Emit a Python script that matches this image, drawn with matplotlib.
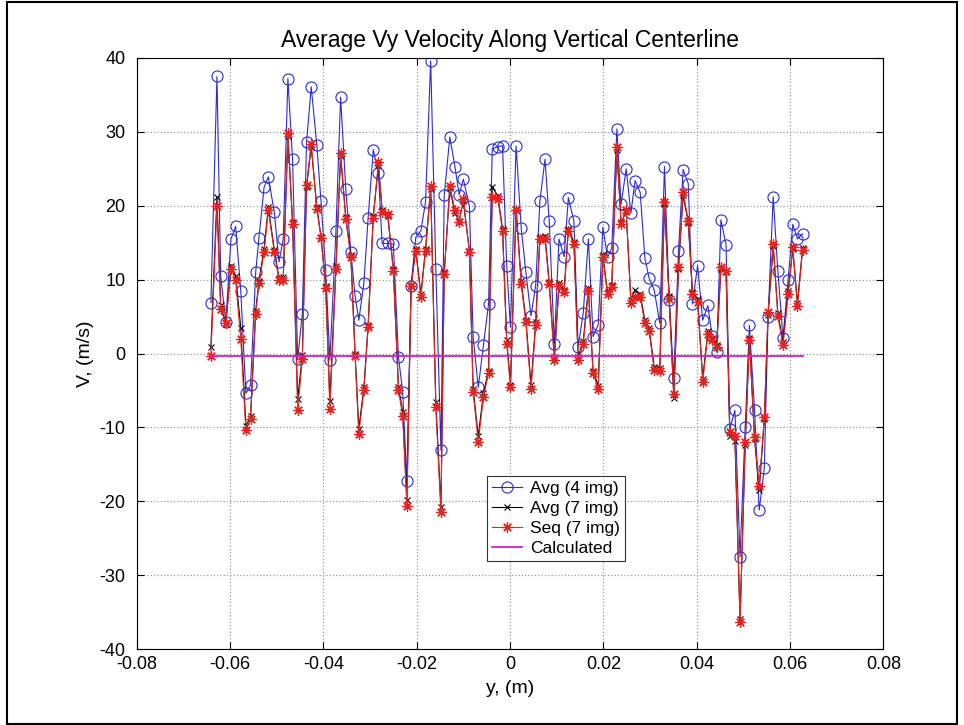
import matplotlib
matplotlib.use("Agg")
import matplotlib.pyplot as plt
from matplotlib.patches import Rectangle

plt.rcParams['font.family'] = ['Liberation Sans', 'DejaVu Sans']
plt.rcParams['axes.unicode_minus'] = False

# positions along the vertical centerline (mm)
y_mm = [-64.1, -62.8, -62.0, -60.9, -59.8, -58.8, -57.7, -56.6, -55.6, -54.5,
        -53.8, -52.7, -51.8, -50.5, -49.5, -48.6, -47.6, -46.6, -45.5, -44.5,
        -43.6, -42.6, -41.4, -40.5, -39.5, -38.6, -37.3, -36.3, -35.2, -34.1,
        -33.2, -32.4, -31.3, -30.4, -29.3, -28.2, -27.4, -26.2, -25.0, -23.9,
        -23.0, -22.1, -21.2, -20.2, -19.1, -18.1, -17.0, -15.9, -14.8, -14.1,
        -12.9, -11.8, -10.9, -10.0, -8.7, -7.9, -6.8, -5.7, -4.6, -3.8,
        -2.6, -1.6, -0.7, 0.1, 1.3, 2.4, 3.4, 4.5, 5.5, 6.4,
        7.5, 8.4, 9.5, 10.5, 11.6, 12.5, 13.7, 14.6, 15.7, 16.8,
        17.8, 18.9, 19.9, 20.9, 21.8, 22.9, 23.8, 24.9, 25.9, 26.8,
        27.9, 28.9, 29.8, 30.9, 32.1, 33.1, 34.1, 35.1, 36.1, 37.1,
        38.2, 39.1, 40.2, 41.3, 42.4, 43.3, 44.3, 45.2, 46.3, 47.1,
        48.2, 49.3, 50.4, 51.3, 52.4, 53.4, 54.5, 55.3, 56.4, 57.4,
        58.5, 59.6, 60.6, 61.6, 62.7]

avg4 = [6.9, 37.5, 10.5, 4.2, 15.5, 17.2, 8.5, -5.4, -4.3, 11.0,
        15.7, 22.5, 23.9, 19.1, 12.4, 15.5, 37.2, 26.3, -0.7, 5.4,
        28.6, 36.1, 28.2, 20.6, 11.3, -0.9, 16.6, 34.7, 22.3, 13.7,
        7.8, 4.5, 9.6, 18.4, 27.6, 24.4, 14.9, 14.9, 14.8, -0.5,
        -5.2, -17.2, 9.1, 15.7, 16.6, 20.5, 39.6, 11.5, -13.1, 21.4,
        29.3, 25.3, 21.5, 23.6, 19.9, 2.3, -4.6, 1.1, 6.7, 27.7,
        28.0, 28.1, 11.8, 3.6, 28.1, 17.0, 11.0, 5.1, 9.2, 20.6,
        26.3, 18.0, 1.3, 15.5, 13.1, 21.1, 17.9, 0.9, 5.5, 15.5,
        2.3, 3.9, 17.1, 13.0, 14.3, 30.4, 20.2, 25.0, 19.0, 23.4,
        21.8, 12.9, 10.2, 8.6, 4.1, 25.3, 7.3, -3.3, 13.9, 24.9,
        23.0, 6.7, 11.9, 4.5, 6.5, 2.4, 0.2, 18.1, 14.7, -10.2,
        -7.7, -27.5, -10.0, 3.8, -7.6, -21.2, -15.5, 4.9, 21.2, 11.2,
        2.1, 10.0, 17.5, 15.5, 16.2]

avg7 = [0.9, 21.2, 6.5, 4.0, 11.8, 10.5, 3.5, -9.8, -8.5, 5.8,
        9.8, 14.2, 19.8, 14.0, 10.2, 10.3, 29.5, 17.8, -6.2, -0.2,
        22.5, 28.0, 19.8, 15.8, 9.2, -6.4, 11.8, 26.8, 18.5, 13.3,
        0.0, -10.2, -4.5, 3.9, 18.6, 25.5, 19.4, 18.6, 11.5, -4.6,
        -7.9, -19.8, 9.3, 14.1, 8.0, 14.2, 22.3, -6.5, -20.8, 11.0,
        22.4, 19.0, 18.0, 20.6, 13.9, -4.8, -11.2, -5.4, -2.3, 22.6,
        21.3, 16.9, 1.8, -4.2, 19.6, 9.8, 4.6, -4.3, 4.2, 15.8,
        15.9, 9.7, -0.5, 9.5, 8.6, 16.9, 15.1, -0.5, 1.7, 8.8,
        -2.3, -4.4, 13.3, 8.3, 9.3, 27.6, 17.8, 19.1, 7.3, 8.6,
        8.0, 4.5, 3.4, -1.8, -1.9, 20.2, 7.8, -6.0, 11.4, 21.5,
        17.7, 8.3, 7.4, -3.4, 3.0, 2.1, 1.2, 11.4, 11.0, -11.2,
        -11.8, -36.0, -12.4, 2.1, -11.6, -18.5, -8.9, 5.2, 14.5, 5.5,
        1.5, 8.4, 14.1, 6.8, 14.3]

seq7 = [-0.3, 20.0, 6.0, 4.1, 11.5, 10.0, 1.9, -10.4, -8.8, 5.4,
        9.5, 13.7, 19.4, 13.7, 9.9, 10.0, 29.9, 17.5, -7.7, -0.7,
        22.8, 28.4, 19.6, 15.7, 8.9, -7.5, 11.5, 27.1, 18.2, 13.0,
        -0.4, -10.9, -4.9, 3.6, 18.4, 25.9, 19.1, 18.9, 11.2, -5.0,
        -8.4, -20.6, 9.1, 13.9, 7.7, 13.9, 22.7, -7.3, -21.5, 10.7,
        22.7, 19.4, 17.8, 20.9, 13.7, -5.2, -12.0, -5.9, -2.7, 21.2,
        20.9, 16.6, 1.3, -4.6, 19.4, 9.4, 4.2, -4.8, 3.8, 15.5,
        15.5, 9.4, -0.9, 9.2, 8.3, 16.6, 14.8, -0.9, 1.3, 8.5,
        -2.7, -4.8, 13.0, 8.0, 9.0, 27.9, 17.5, 19.4, 6.9, 7.6,
        7.6, 4.1, 3.1, -2.2, -2.3, 20.5, 7.4, -5.5, 11.7, 21.8,
        18.0, 8.0, 7.0, -3.8, 2.7, 1.8, 0.9, 11.7, 11.2, -10.6,
        -11.1, -36.4, -12.0, 1.8, -11.3, -17.9, -8.6, 5.6, 14.8, 5.1,
        1.1, 8.1, 14.4, 6.4, 14.0]

calc_y = [-0.4, -0.4]

title = "Average Vy Velocity Along Vertical Centerline"
xlabel = "y, (m)"
ylabel = "V, (m/s)"
x_ticks = [-0.08, -0.06, -0.04, -0.02, 0, 0.02, 0.04, 0.06, 0.08]
x_tick_labels = ["-0.08", "-0.06", "-0.04", "-0.02", "0", "0.02", "0.04", "0.06", "0.08"]
y_ticks = [-40, -30, -20, -10, 0, 10, 20, 30, 40]

x = [v / 1000.0 for v in y_mm]
calc_x = [x[0], x[-1]]

fig = plt.figure(figsize=(9.64, 7.25), dpi=100)
ax = fig.add_axes([0.1418, 0.1048, 0.7745, 0.8152])

ax.plot(x, avg4, color='#2b2bd6', lw=0.8, marker='o', ms=8, mfc='none',
        mec='#2b2bd6', mew=0.8, label='Avg (4 img)')
ax.plot(x, avg7, color='black', lw=0.8, marker='x', ms=5, mew=0.8,
        label='Avg (7 img)')
ax.plot(x, seq7, color='#e8231f', lw=0.8, marker=(8, 2, 0), ms=7.5, mew=0.9,
        label='Seq (7 img)')
ax.plot(calc_x, calc_y, color='#cc22cc', lw=1.3, label='Calculated')

ax.set_xlim(-0.08, 0.08)
ax.set_ylim(-40, 40)
ax.set_xticks(x_ticks)
ax.set_xticklabels(x_tick_labels)
ax.set_yticks(y_ticks)
ax.grid(True, linestyle=':', color='#999999', lw=0.9)
ax.tick_params(direction='in', top=True, right=True, labelsize=13, length=5)
ax.tick_params(axis='y', pad=8)
ax.tick_params(axis='x', pad=5)
for s in ax.spines.values():
    s.set_linewidth(0.8)

ax.set_title(title, fontsize=16.5, pad=8)
ax.set_xlabel(xlabel, fontsize=14, labelpad=5)
ax.set_ylabel(ylabel, fontsize=14, labelpad=4)

leg = ax.legend(loc='upper left', bbox_to_anchor=(0.469, 0.293), fontsize=12.5,
                frameon=True, fancybox=False, edgecolor='black',
                handlelength=1.7, borderpad=0.3, labelspacing=0.28,
                handletextpad=0.5, borderaxespad=0.0)
leg.get_frame().set_linewidth(0.8)

fig.patches.append(Rectangle((0.007, 0.002), 0.986, 0.995, transform=fig.transFigure,
                             fill=False, edgecolor='black', lw=1.5))

fig.savefig('out.png', dpi=100)
